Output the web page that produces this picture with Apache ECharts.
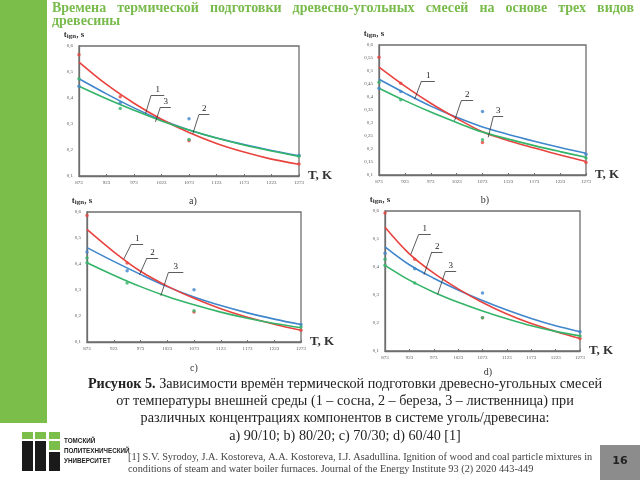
<!DOCTYPE html>
<html><head><meta charset="utf-8">
<script src="https://cdn.jsdelivr.net/npm/echarts@6/dist/echarts.min.js"></script>
<style>html,body{margin:0;padding:0;background:#fff}#c{width:640px;height:480px}</style>
</head><body><div id="c"></div>
<script>
// ---- data ----
const X_TICKS = [873, 923, 973, 1023, 1073, 1123, 1173, 1223, 1273];

// fitted curves, values at X_TICKS
const curveA_red   = [0.538, 0.452, 0.380, 0.318, 0.267, 0.225, 0.192, 0.165, 0.145];
const curveA_blue  = [0.474, 0.416, 0.362, 0.315, 0.277, 0.246, 0.221, 0.198, 0.178];
const curveA_green = [0.445, 0.397, 0.353, 0.312, 0.277, 0.246, 0.219, 0.196, 0.175];
const curveB_red   = [0.515, 0.442, 0.376, 0.318, 0.266, 0.232, 0.204, 0.177, 0.152];
const curveB_blue  = [0.468, 0.415, 0.365, 0.322, 0.285, 0.256, 0.230, 0.206, 0.184];
const curveB_green = [0.434, 0.386, 0.342, 0.302, 0.265, 0.238, 0.213, 0.190, 0.168];
const curveC_red   = [0.533, 0.447, 0.372, 0.315, 0.268, 0.228, 0.195, 0.168, 0.145];
const curveC_blue  = [0.463, 0.410, 0.360, 0.313, 0.273, 0.240, 0.212, 0.188, 0.167];
const curveC_green = [0.405, 0.357, 0.313, 0.275, 0.243, 0.215, 0.191, 0.171, 0.155];
const curveD_red   = [0.542, 0.447, 0.378, 0.322, 0.273, 0.232, 0.198, 0.170, 0.145];
const curveD_blue  = [0.472, 0.408, 0.360, 0.318, 0.280, 0.246, 0.216, 0.190, 0.169];
const curveD_green = [0.406, 0.353, 0.310, 0.274, 0.243, 0.215, 0.190, 0.170, 0.154];

// measured points [T, t_ign]
const ptsA_red   = [[873, 0.566], [948, 0.405], [1073, 0.236], [1273, 0.146]];
const ptsA_blue  = [[873, 0.445], [948, 0.382], [1073, 0.320], [1273, 0.180]];
const ptsA_green = [[873, 0.474], [948, 0.360], [1073, 0.240], [1273, 0.176]];
const ptsB_red   = [[873, 0.553], [915, 0.453], [1073, 0.225], [1273, 0.148]];
const ptsB_blue  = [[873, 0.434], [915, 0.421], [1073, 0.344], [1273, 0.180]];
const ptsB_green = [[873, 0.457], [915, 0.389], [1073, 0.236], [1273, 0.165]];
const ptsC_red   = [[873, 0.587], [948, 0.404], [1073, 0.215], [1273, 0.145]];
const ptsC_blue  = [[873, 0.446], [948, 0.374], [1073, 0.301], [1273, 0.167]];
const ptsC_green = [[873, 0.423], [873, 0.405], [948, 0.327], [1073, 0.220], [1273, 0.158]];
const ptsD_red   = [[873, 0.593], [934, 0.428], [1073, 0.219], [1273, 0.145]];
const ptsD_blue  = [[873, 0.449], [934, 0.394], [1073, 0.307], [1273, 0.169]];
const ptsD_green = [[873, 0.428], [873, 0.406], [934, 0.343], [1073, 0.219], [1273, 0.154]];

// curve number leaders: [T0, y0, T1, y1, T2, label]
const leadA = [[994, 0.340, 1004, 0.410, 1028, '1'], [1012, 0.308, 1021, 0.365, 1040, '3'], [1080, 0.263, 1091, 0.336, 1110, '2']];
const leadB = [[942, 0.392, 955, 0.461, 981, '1'], [1019, 0.309, 1032, 0.386, 1055, '2'], [1084, 0.245, 1094, 0.326, 1113, '3']];
const leadC = [[942, 0.420, 956, 0.477, 978, '1'], [971, 0.358, 985, 0.423, 1006, '2'], [1011, 0.278, 1025, 0.367, 1053, '3']];
const leadD = [[926, 0.445, 942, 0.516, 967, '1'], [953, 0.373, 969, 0.454, 991, '2'], [981, 0.302, 997, 0.385, 1019, '3']];

const panelLabels = ['a)', 'b)', 'c)', 'd)'];
const titleLine1 = 'Времена термической подготовки древесно-угольных смесей на основе трех видов';
const titleLine2 = 'древесины';
const caption = [
  'Зависимости времён термической подготовки древесно-угольных смесей',
  'от температуры внешней среды (1 – сосна, 2 – береза, 3 – лиственница) при',
  'различных концентрациях компонентов в системе уголь/древесина:',
  'а) 90/10; b) 80/20; c) 70/30; d) 60/40 [1]'
];
const refLines = [
  '[1] S.V. Syrodoy, J.A. Kostoreva, A.A. Kostoreva, I.J. Asadullina. Ignition of wood and coal particle mixtures in',
  'conditions of steam and water boiler furnaces. Journal of the Energy Institute 93 (2) 2020 443-449'
];

// ---- style ----
const RED = '#e8433f', BLUE = '#3f86cc', GREEN = '#33b468';
const AX = '#6e6e6e';
const grids = [
  {left: 79, top: 46, width: 220, height: 130},
  {left: 379, top: 45, width: 207, height: 130},
  {left: 87, top: 212, width: 214, height: 130},
  {left: 385, top: 211, width: 195, height: 140}
];
const yIntervals = [0.1, 0.05, 0.1, 0.1];
const panels = [
  {c: [curveA_red, curveA_blue, curveA_green], p: [ptsA_red, ptsA_blue, ptsA_green], l: leadA},
  {c: [curveB_red, curveB_blue, curveB_green], p: [ptsB_red, ptsB_blue, ptsB_green], l: leadB},
  {c: [curveC_red, curveC_blue, curveC_green], p: [ptsC_red, ptsC_blue, ptsC_green], l: leadC},
  {c: [curveD_red, curveD_blue, curveD_green], p: [ptsD_red, ptsD_blue, ptsD_green], l: leadD}
];
const colors = [RED, BLUE, GREEN];
const fmt = v => (+v.toFixed(2)).toString().replace('.', ',');

const xAxes = [], yAxes = [], series = [];
grids.forEach((g, i) => {
  g.show = true; g.borderColor = AX; g.borderWidth = 1.3; g.backgroundColor = '#fff';
  xAxes.push({
    type: 'value', gridIndex: i, min: 873, max: 1273,
    name: 'T, K', nameLocation: 'end', nameGap: 3,
    nameTextStyle: {fontFamily: 'Liberation Serif', fontWeight: 'bold', fontSize: 13, color: '#333', verticalAlign: 'middle', padding: [0, 0, 2, 0]},
    axisLine: {show: true, lineStyle: {color: AX, width: 1.3}},
    axisTick: {show: true, inside: true, length: 2, customValues: X_TICKS, lineStyle: {color: AX}},
    axisLabel: {customValues: X_TICKS, fontSize: 5, color: '#555', fontFamily: 'Liberation Serif', margin: 4, formatter: v => String(v)},
    splitLine: {show: false}
  });
  yAxes.push({
    type: 'value', gridIndex: i, min: 0.1, max: 0.6, interval: yIntervals[i],
    name: '{t|t}{s|ign}{t|, s}', nameLocation: 'end', nameGap: 6,
    nameTextStyle: {align: 'center', padding: [0, 0, 0, -10],
      rich: {t: {fontFamily: 'Liberation Serif', fontWeight: 'bold', fontSize: 9, color: '#333'},
             s: {fontFamily: 'Liberation Serif', fontWeight: 'bold', fontSize: 7, color: '#333', padding: [3, 0, 0, 0]}}},
    axisLine: {show: true, lineStyle: {color: AX, width: 1.3}},
    axisTick: {show: false},
    axisLabel: {fontSize: 5, color: '#555', fontFamily: 'Liberation Serif', margin: 6, formatter: fmt},
    splitLine: {show: false}
  });
  const P = panels[i];
  P.c.forEach((cv, k) => {
    const s = {
      type: 'line', xAxisIndex: i, yAxisIndex: i, smooth: 0.35, showSymbol: false, silent: true,
      data: X_TICKS.map((x, j) => [x, cv[j]]),
      lineStyle: {color: colors[k], width: 1.6}, itemStyle: {color: colors[k]}, z: k === 0 ? 3 : (k === 2 ? 4 : 2)
    };
    if (k === 0) {
      const md = [];
      P.l.forEach(l => {
        md.push([{coord: [l[0], l[1]], label: {show: false}}, {coord: [l[2], l[3]]}]);
        md.push([{coord: [l[2], l[3]], label: {show: true, formatter: l[5]}}, {coord: [l[4], l[3]]}]);
      });
      s.markLine = {symbol: 'none', silent: true, animation: false,
        lineStyle: {color: '#333', width: 0.8, type: 'solid'},
        label: {position: 'insideMiddleTop', distance: 1, fontSize: 9, color: '#222', fontFamily: 'Liberation Serif'},
        data: md};
    }
    series.push(s);
  });
  P.p.forEach((pts, k) => {
    series.push({type: 'scatter', xAxisIndex: i, yAxisIndex: i, data: pts, symbolSize: 3.5,
      itemStyle: {color: colors[k]}, z: 5, silent: true});
  });
});

// ---- graphics: slide decorations ----
const mctx = document.createElement('canvas').getContext('2d');
const titleFont = 'bold 14px "Liberation Serif"';
mctx.font = titleFont;
const words = titleLine1.split(' ');
const wW = words.map(w => mctx.measureText(w).width);
const tx0 = 52, tx1 = 634;
const gap = (tx1 - tx0 - wW.reduce((a, b) => a + b, 0)) / (words.length - 1);
const graphics = [];
graphics.push({type: 'rect', shape: {x: 0, y: 0, width: 47, height: 423}, style: {fill: '#7bbf4a'}, silent: true});
let cx = tx0;
words.forEach((w, k) => {
  graphics.push({type: 'text', x: cx, y: 8, style: {text: w, font: titleFont, fill: '#78bb4c', textVerticalAlign: 'middle'}, silent: true});
  cx += wW[k] + gap;
});
graphics.push({type: 'text', x: tx0, y: 21, style: {text: titleLine2, font: titleFont, fill: '#78bb4c', textVerticalAlign: 'middle'}, silent: true});

const plPos = [[193, 201], [485, 200], [194, 368], [488, 372]];
panelLabels.forEach((t, k) => graphics.push({type: 'text', x: plPos[k][0], y: plPos[k][1],
  style: {text: t, font: '10px "Liberation Serif"', fill: '#333', textAlign: 'center', textVerticalAlign: 'middle'}, silent: true}));

const capY = [384, 401, 418, 436];
const capFont = '14.2px "Liberation Serif"';
const boldFont = 'bold 14.2px "Liberation Serif"';
mctx.font = boldFont; const bw = mctx.measureText('Рисунок 5. ').width;
mctx.font = capFont; const cw0 = mctx.measureText(caption[0]).width;
const start0 = 345 - (bw + cw0) / 2;
graphics.push({type: 'text', x: start0, y: capY[0], style: {text: 'Рисунок 5. ', font: boldFont, fill: '#222', textVerticalAlign: 'middle'}, silent: true});
graphics.push({type: 'text', x: start0 + bw, y: capY[0], style: {text: caption[0], font: capFont, fill: '#222', textVerticalAlign: 'middle'}, silent: true});
for (let k = 1; k < 4; k++) graphics.push({type: 'text', x: 345, y: capY[k],
  style: {text: caption[k], font: capFont, fill: '#222', textAlign: 'center', textVerticalAlign: 'middle'}, silent: true});

// logo
const logoG = [[22, 432, 11, 7], [35, 432, 11, 7], [49, 432, 11, 7], [49, 441, 11, 9]];
const logoB = [[22, 441, 11, 30], [35, 441, 11, 30], [49, 452, 11, 19]];
logoG.forEach(r => graphics.push({type: 'rect', shape: {x: r[0], y: r[1], width: r[2], height: r[3]}, style: {fill: '#7bbf4a'}, silent: true}));
logoB.forEach(r => graphics.push({type: 'rect', shape: {x: r[0], y: r[1], width: r[2], height: r[3]}, style: {fill: '#1a1a1a'}, silent: true}));
['ТОМСКИЙ', 'ПОЛИТЕХНИЧЕСКИЙ', 'УНИВЕРСИТЕТ'].forEach((t, k) => graphics.push({type: 'text', x: 64, y: 441 + k * 10,
  style: {text: t, font: 'bold 6.3px "Liberation Sans"', fill: '#222', textVerticalAlign: 'middle'}, silent: true}));
refLines.forEach((t, k) => graphics.push({type: 'text', x: 128, y: 457 + k * 12,
  style: {text: t, font: '10.3px "Liberation Serif"', fill: '#444', textVerticalAlign: 'middle'}, silent: true}));
graphics.push({type: 'rect', shape: {x: 600, y: 445, width: 40, height: 35}, style: {fill: '#8c8c8c'}, silent: true, z: -1});
graphics.push({type: 'text', x: 620, y: 461, style: {text: '16', font: 'bold 11px "DejaVu Sans"', fill: '#222', textAlign: 'center', textVerticalAlign: 'middle'}, silent: true});

const chart = echarts.init(document.getElementById('c'), null, {renderer: 'canvas'});
chart.setOption({
  animation: false,
  backgroundColor: '#fff',
  grid: grids, xAxis: xAxes, yAxis: yAxes, series: series,
  graphic: graphics
});
</script></body></html>
